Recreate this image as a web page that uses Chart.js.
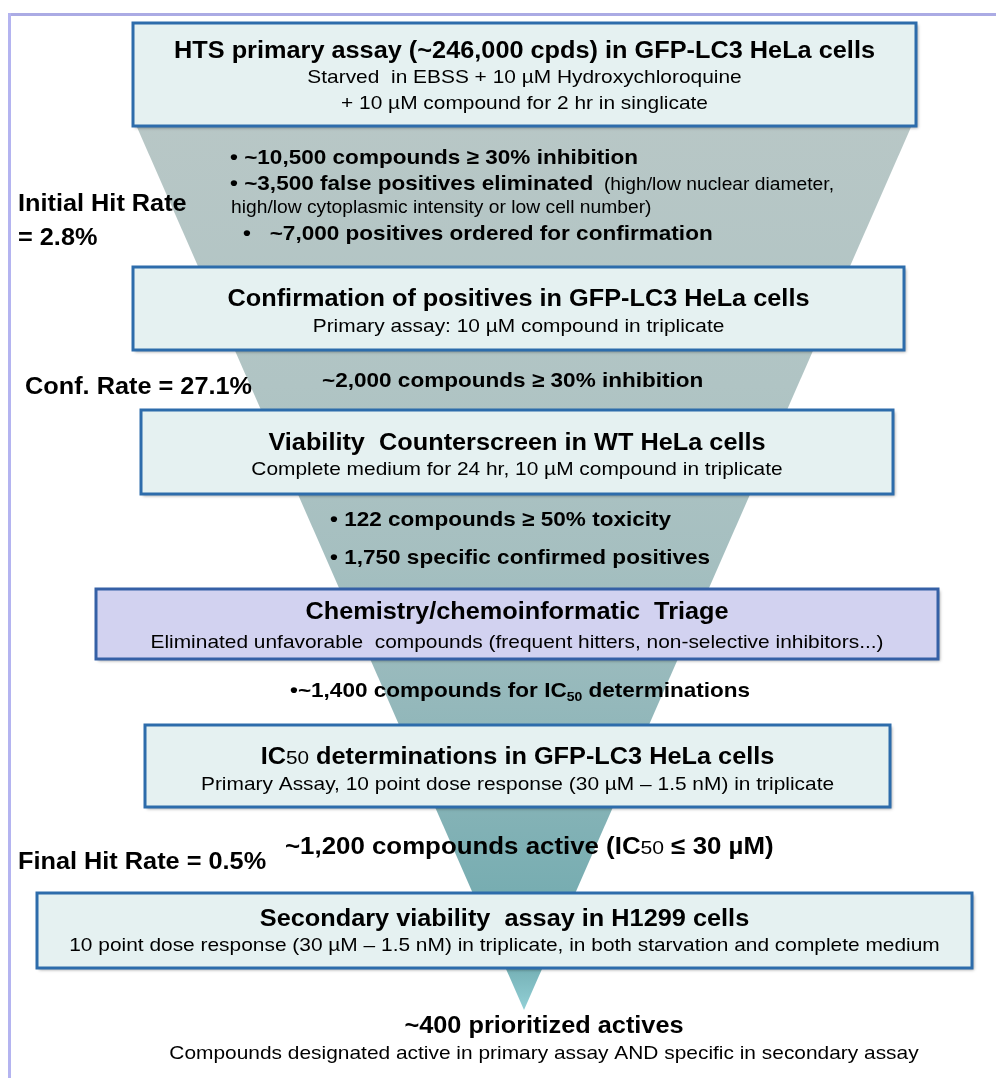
<!DOCTYPE html>
<html>
<head>
<meta charset="utf-8">
<script src="https://cdn.jsdelivr.net/npm/chart.js@4/dist/chart.umd.min.js"></script>
<style>
  html, body { margin: 0; padding: 0; background: #ffffff; }
  canvas { display: block; }
</style>
</head>
<body>
<canvas id="funnel-chart" width="996" height="1078"></canvas>
<script>
// funnel outline, in % of funnel half-width (x) and % of funnel depth (y)
const funnelEdgeX = [-100, 100, 0];
const funnelEdgeY = [0, 0, 100];

const stageTitles = [
  "HTS primary assay (~246,000 cpds) in GFP-LC3 HeLa cells",
  "Confirmation of positives in GFP-LC3 HeLa cells",
  "Viability  Counterscreen in WT HeLa cells",
  "Chemistry/chemoinformatic  Triage",
  "IC{50} determinations in GFP-LC3 HeLa cells",
  "Secondary viability  assay in H1299 cells",
];
const stageDetails = [
  ["Starved  in EBSS + 10 µM Hydroxychloroquine", "+ 10 µM compound for 2 hr in singlicate"],
  ["Primary assay: 10 µM compound in triplicate"],
  ["Complete medium for 24 hr, 10 µM compound in triplicate"],
  ["Eliminated unfavorable  compounds (frequent hitters, non-selective inhibitors...)"],
  ["Primary Assay, 10 point dose response (30 µM – 1.5 nM) in triplicate"],
  ["10 point dose response (30 µM – 1.5 nM) in triplicate, in both starvation and complete medium"],
];
const stageHighlighted = [false, false, false, true, false, false];

// notes between stages ("|" switches to plain text, {..} small digits, _{..} subscript)
const filterNotes = [
  [
    "• ~10,500 compounds ≥ 30% inhibition",
    "• ~3,500 false positives eliminated|  (high/low nuclear diameter,",
    "|high/low cytoplasmic intensity or low cell number)",
    "•   ~7,000 positives ordered for confirmation",
  ],
  ["~2,000 compounds ≥ 30% inhibition"],
  ["• 122 compounds ≥ 50% toxicity", "• 1,750 specific confirmed positives"],
  ["•~1,400 compounds for IC_{50} determinations"],
  ["~1,200 compounds active (IC{50} ≤ 30 µM)"],
];

const hitRateLabels = ["Initial Hit Rate", "Conf. Rate", "Final Hit Rate"];
const hitRateValues = [2.8, 27.1, 0.5];

const finalTitle = "~400 prioritized actives";
const finalDetail = "Compounds designated active in primary assay AND specific in secondary assay";

// ---- layout (pixels) ----
const FONT = '"Liberation Sans", Arial, Helvetica, sans-serif';
const STRETCH = 1.1;
const BOX_RECTS = [
  [133, 23, 783, 103],
  [133, 267, 771, 83],
  [141, 410, 752, 84],
  [96, 589, 842, 70],
  [145, 725, 745, 82],
  [37, 893, 935, 75],
];
const TITLE_Y = [50, 298, 442, 611, 756, 918];
const DETAIL_Y = [76, 325, 468, 641, 783, 944];
const DETAIL_GAP = 26;
const NOTE_POS = [
  [[230, 157], [230, 183], [231, 207], [243, 233]],
  [[322, 380]],
  [[330, 519], [330, 557]],
  [[290, 690]],
  [[285, 846]],
];
const NOTE_SIZE = [20.5, 20.5, 20.5, 20.5, 23.5];
const HIT_POS = [
  { x: 18, y: [203, 237] },
  { x: 25, y: [386] },
  { x: 18, y: [861] },
];

function parseLine(str, size, bold, altSize) {
  const segs = [];
  let b = bold;
  let s = size;
  str.split(/(\||_\{[^}]*\}|\{[^}]*\})/).forEach((tok) => {
    if (!tok) return;
    if (tok === "|") {
      b = false;
      s = altSize || size;
    } else if (tok.startsWith("_{")) {
      segs.push({ text: tok.slice(2, -1), bold: b, size: s * 0.62, dy: s * 0.2 });
    } else if (tok.startsWith("{")) {
      segs.push({ text: tok.slice(1, -1), bold: false, size: s * 0.82, dy: 0 });
    } else {
      segs.push({ text: tok, bold: b, size: s, dy: 0 });
    }
  });
  return segs;
}

function drawLine(ctx, segs, x, y, align) {
  let total = 0;
  segs.forEach((seg) => {
    ctx.font = `${seg.bold ? "bold " : ""}${seg.size}px ${FONT}`;
    seg.w = ctx.measureText(seg.text).width * STRETCH;
    total += seg.w;
  });
  const base = y + segs[0].size * 0.36;
  let cx = align === "center" ? x - total / 2 : x;
  ctx.fillStyle = "#000000";
  ctx.textBaseline = "alphabetic";
  ctx.textAlign = "left";
  segs.forEach((seg) => {
    ctx.font = `${seg.bold ? "bold " : ""}${seg.size}px ${FONT}`;
    ctx.save();
    ctx.translate(cx, base + seg.dy);
    ctx.scale(STRETCH, 1);
    ctx.fillText(seg.text, 0, 0);
    ctx.restore();
    cx += seg.w;
  });
}

function drawBox(ctx, rect, highlighted) {
  const [x, y, w, h] = rect;
  ctx.save();
  ctx.shadowColor = "rgba(0,0,0,0.35)";
  ctx.shadowOffsetX = 2;
  ctx.shadowOffsetY = 2;
  ctx.shadowBlur = 3;
  ctx.fillStyle = highlighted ? "#d2d2f0" : "#e5f1f1";
  ctx.fillRect(x, y, w, h);
  ctx.restore();
  ctx.lineWidth = 3;
  ctx.strokeStyle = highlighted ? "#3560a6" : "#2d6cab";
  ctx.strokeRect(x, y, w, h);
}

const diagramPlugin = {
  id: "diagram",
  beforeDraw(chart) {
    const ctx = chart.ctx;
    ctx.save();
    ctx.fillStyle = "#ffffff";
    ctx.fillRect(0, 0, chart.width, chart.height);
    ctx.fillStyle = "#ababe4";
    ctx.fillRect(8, 13, chart.width - 8, 3);
    ctx.fillStyle = "#b4b4f0";
    ctx.fillRect(8, 13, 3, chart.height - 13);
    ctx.restore();
  },
  afterDatasetsDraw(chart) {
    const ctx = chart.ctx;
    const cx = (chart.chartArea.left + chart.chartArea.right) / 2;
    ctx.save();

    stageTitles.forEach((title, i) => {
      const rect = BOX_RECTS[i];
      drawBox(ctx, rect, stageHighlighted[i]);
      const mid = rect[0] + rect[2] / 2;
      drawLine(ctx, parseLine(title, 23, true), mid, TITLE_Y[i], "center");
      stageDetails[i].forEach((line, j) => {
        drawLine(ctx, parseLine(line, 19, false), mid, DETAIL_Y[i] + j * DETAIL_GAP, "center");
      });
    });

    filterNotes.forEach((lines, i) => {
      lines.forEach((line, j) => {
        const [x, y] = NOTE_POS[i][j];
        drawLine(ctx, parseLine(line, NOTE_SIZE[i], true, 17.5), x, y, "left");
      });
    });

    hitRateLabels.forEach((label, i) => {
      const pos = HIT_POS[i];
      const value = `= ${hitRateValues[i]}%`;
      const lines = pos.y.length > 1 ? [label, value] : [`${label} ${value}`];
      lines.forEach((line, j) => {
        drawLine(ctx, parseLine(line, 23, true), pos.x, pos.y[j], "left");
      });
    });

    drawLine(ctx, parseLine(finalTitle, 23, true), cx + 20, 1025, "center");
    drawLine(ctx, parseLine(finalDetail, 19, false), cx + 20, 1052, "center");
    ctx.restore();
  },
};

function funnelGradient(context) {
  const { ctx, chartArea } = context.chart;
  if (!chartArea) return "#a9c0c1";
  const g = ctx.createLinearGradient(0, chartArea.top, 0, chartArea.bottom);
  g.addColorStop(0, "#b8c7c6");
  g.addColorStop(0.3, "#b0c4c4");
  g.addColorStop(0.5, "#a5bfc0");
  g.addColorStop(0.66, "#94b8bb");
  g.addColorStop(0.82, "#7eb0b4");
  g.addColorStop(0.94, "#6ea8ad");
  g.addColorStop(1, "#92d0d6");
  return g;
}

function createChartData() {
  return {
    datasets: [
      {
        data: funnelEdgeX.map((x, i) => ({ x: x, y: funnelEdgeY[i] })),
        fill: "shape",
        backgroundColor: funnelGradient,
        borderWidth: 0,
        pointRadius: 0,
        tension: 0,
      },
    ],
  };
}

function createChartOptions() {
  return {
    responsive: false,
    animation: false,
    devicePixelRatio: 1,
    layout: { padding: { left: 133, right: 81, top: 118, bottom: 68 } },
    scales: {
      x: { type: "linear", min: -100, max: 100, display: false },
      y: { type: "linear", min: 0, max: 100, reverse: true, display: false },
    },
    plugins: {
      legend: { display: false },
      tooltip: { enabled: false },
    },
  };
}

const ctx = document.getElementById("funnel-chart").getContext("2d");
new Chart(ctx, {
  type: "line",
  data: createChartData(),
  options: createChartOptions(),
  plugins: [diagramPlugin],
});
</script>
</body>
</html>
